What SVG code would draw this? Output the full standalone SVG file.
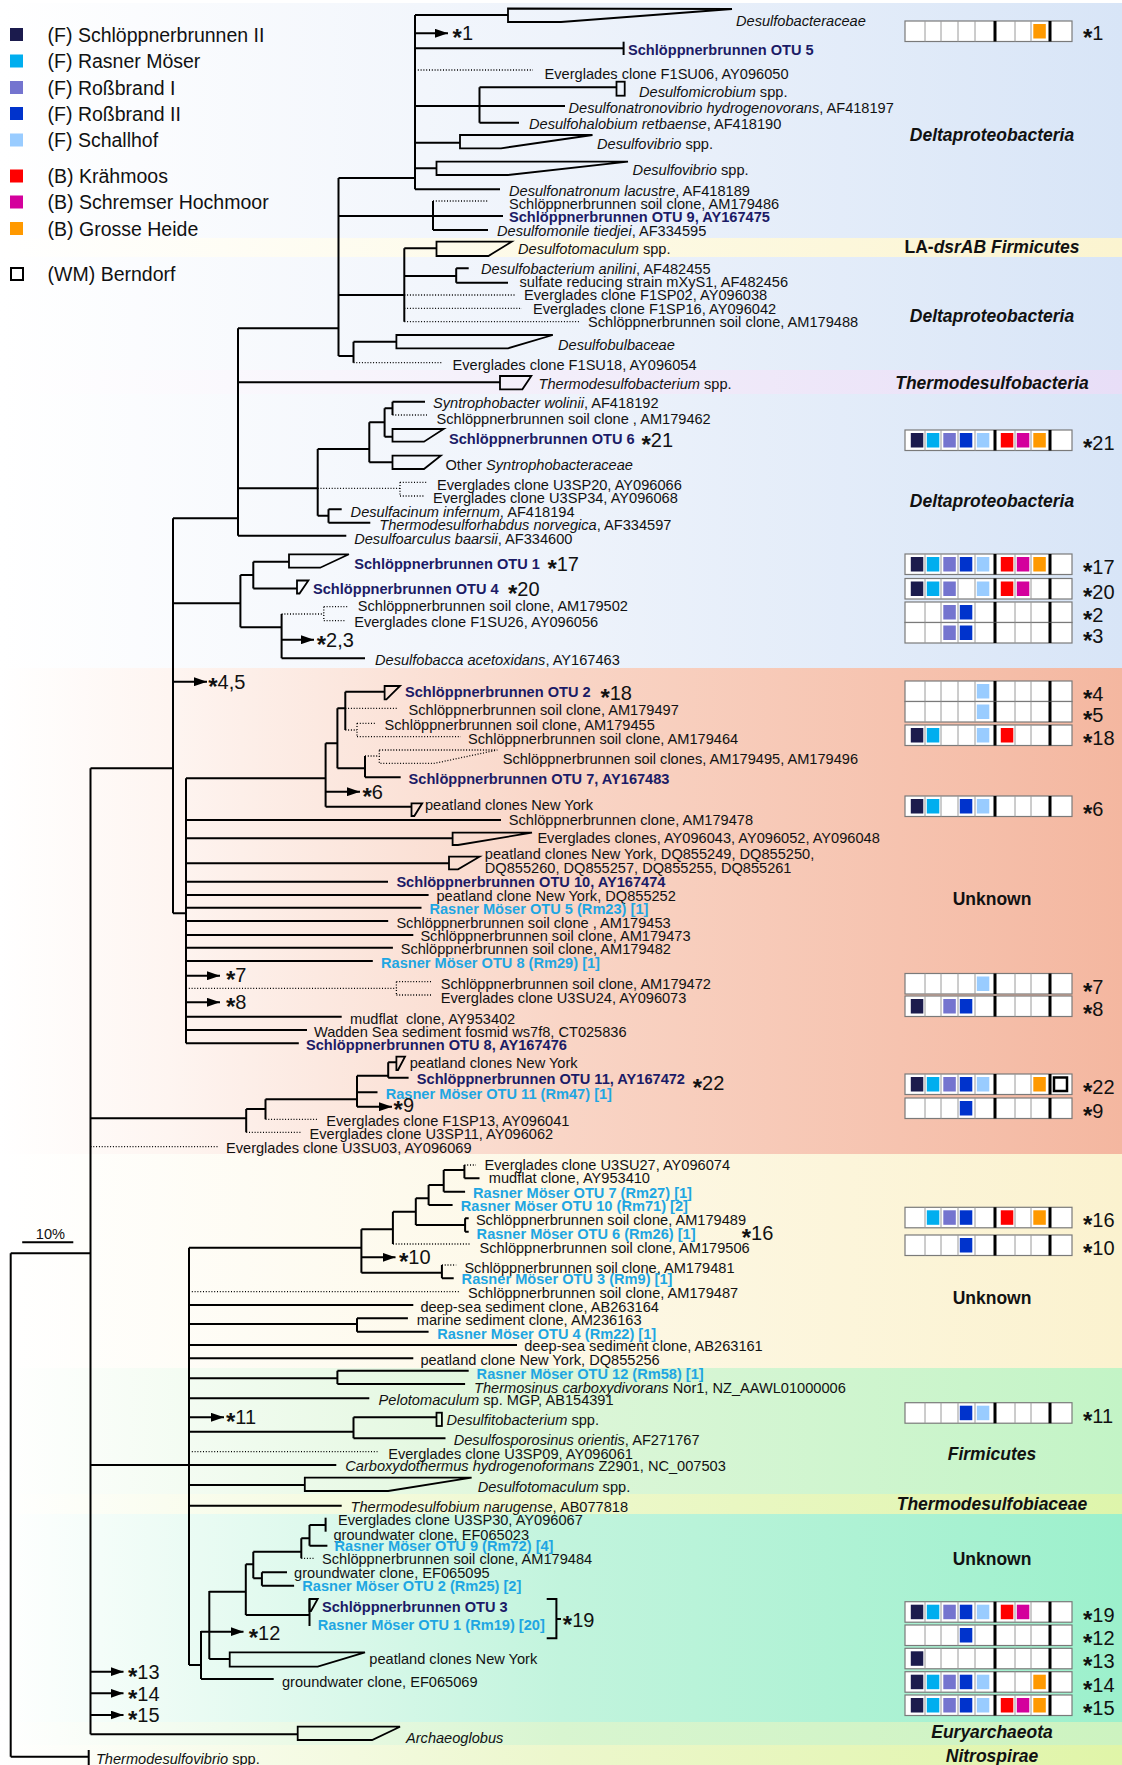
<svg xmlns="http://www.w3.org/2000/svg" width="1122" height="1765" viewBox="0 0 1122 1765">
<style>
.t{font-family:"Liberation Sans",Arial,sans-serif;font-size:14.6px;fill:#111}
.i{font-style:italic}
.nv{fill:#1b1b66;font-weight:bold}
.cy{fill:#1ea6e2;font-weight:bold}
.st{font-family:"Liberation Sans",Arial,sans-serif;font-size:20px;fill:#111}
.as{font-size:24px;font-weight:bold}
.lg{font-family:"Liberation Sans",Arial,sans-serif;font-size:19.5px;fill:#111}
.cl{font-family:"Liberation Sans",Arial,sans-serif;font-size:17.5px;font-weight:bold;font-style:italic;text-anchor:middle;fill:#111}
.up{font-style:normal}
.br{fill:none;stroke:#000;stroke-width:2}
.dt{fill:none;stroke:#000;stroke-width:1.3;stroke-dasharray:1 1.8}
.ar{fill:none;stroke:#000;stroke-width:2;marker-end:url(#ah)}
.cs{fill:none;stroke:#000;stroke-width:1.8}
.csd{fill:none;stroke:#000;stroke-width:1.3;stroke-dasharray:1 1.8}
.fr{fill:#fff;stroke:#7a7a7a;stroke-width:1.2}
.dv{stroke:#9a9a9a;stroke-width:1}
.tk{stroke:#000;stroke-width:3}
.c1{fill:#1b1b4d}.c2{fill:#00aeef}.c3{fill:#7474cf}.c4{fill:#0033cc}.c5{fill:#99ccff}.c6{fill:#ff0000}.c7{fill:#d4009c}.c8{fill:#ff9900}
</style>
<defs>
<marker id="ah" markerUnits="userSpaceOnUse" markerWidth="13" markerHeight="9" refX="13" refY="4.5" orient="auto"><path d="M0,0 L13,4.5 L0,9 z" fill="#000"/></marker>
<linearGradient id="gBlue" x1="0" y1="0" x2="1" y2="0"><stop offset="0" stop-color="#fff"/><stop offset="0.5" stop-color="#eef3fb"/><stop offset="1" stop-color="#d8e5f7"/></linearGradient>
<linearGradient id="gLA" x1="0" y1="0" x2="1" y2="0"><stop offset="0" stop-color="#fff"/><stop offset="0.5" stop-color="#fdfae6"/><stop offset="1" stop-color="#fbf4d0"/></linearGradient>
<linearGradient id="gLav" x1="0" y1="0" x2="1" y2="0"><stop offset="0" stop-color="#fff"/><stop offset="0.5" stop-color="#f3eefa"/><stop offset="1" stop-color="#e8def7"/></linearGradient>
<linearGradient id="gPink" x1="0" y1="0" x2="1" y2="0"><stop offset="0" stop-color="#fff"/><stop offset="0.15" stop-color="#fef5f1"/><stop offset="0.5" stop-color="#f9d5c6"/><stop offset="1" stop-color="#f4b7a0"/></linearGradient>
<linearGradient id="gCream" x1="0" y1="0" x2="1" y2="0"><stop offset="0" stop-color="#fff"/><stop offset="0.5" stop-color="#fdf8e6"/><stop offset="1" stop-color="#fbf2cf"/></linearGradient>
<linearGradient id="gGreen" x1="0" y1="0" x2="1" y2="0"><stop offset="0" stop-color="#fff"/><stop offset="0.5" stop-color="#dcf6d8"/><stop offset="1" stop-color="#c3f4c6"/></linearGradient>
<linearGradient id="gYG" x1="0" y1="0" x2="1" y2="0"><stop offset="0" stop-color="#fff"/><stop offset="0.5" stop-color="#eef8cc"/><stop offset="1" stop-color="#def5ab"/></linearGradient>
<linearGradient id="gTeal" x1="0" y1="0" x2="1" y2="0"><stop offset="0" stop-color="#fff"/><stop offset="0.5" stop-color="#c2f4dd"/><stop offset="1" stop-color="#9cf0cc"/></linearGradient>
<linearGradient id="gEury" x1="0" y1="0" x2="1" y2="0"><stop offset="0" stop-color="#fff"/><stop offset="0.5" stop-color="#d8f5d0"/><stop offset="1" stop-color="#cdf3c0"/></linearGradient>
<linearGradient id="gNitro" x1="0" y1="0" x2="1" y2="0"><stop offset="0" stop-color="#fff"/><stop offset="0.5" stop-color="#ecf7cc"/><stop offset="1" stop-color="#e0f5a8"/></linearGradient>
<symbol id="grid" overflow="visible">
<rect class="fr" x="905" y="0" width="167" height="20.5"/>
<path class="dv" d="M925 0V20.5M941 0V20.5M958 0V20.5M975 0V20.5M1015 0V20.5M1031 0V20.5"/>
<path class="tk" d="M995 0V20.5M1050 0V20.5"/>
</symbol>
</defs>
<rect width="1122" height="1765" fill="#fff"/>
<g id="bands">
<rect x="0" y="3" width="1122" height="235" fill="url(#gBlue)"/>
<rect x="0" y="238" width="1122" height="19" fill="url(#gLA)"/>
<rect x="0" y="257" width="1122" height="113" fill="url(#gBlue)"/>
<rect x="0" y="370" width="1122" height="24" fill="url(#gLav)"/>
<rect x="0" y="394" width="1122" height="274" fill="url(#gBlue)"/>
<rect x="0" y="668" width="1122" height="486" fill="url(#gPink)"/>
<rect x="0" y="1154" width="1122" height="214" fill="url(#gCream)"/>
<rect x="0" y="1368" width="1122" height="126" fill="url(#gGreen)"/>
<rect x="0" y="1494" width="1122" height="20" fill="url(#gYG)"/>
<rect x="0" y="1514" width="1122" height="208" fill="url(#gTeal)"/>
<rect x="0" y="1722" width="1122" height="23" fill="url(#gEury)"/>
<rect x="0" y="1745" width="1122" height="20" fill="url(#gNitro)"/>
</g>
<g id="legend">
<rect class="c1" x="10" y="28" width="13" height="13"/><text class="lg" x="47.6" y="42">(F) Schlöppnerbrunnen II</text>
<rect class="c2" x="10" y="54.5" width="13" height="13"/><text class="lg" x="47.6" y="68">(F) Rasner Möser</text>
<rect class="c3" x="10" y="81" width="13" height="13"/><text class="lg" x="47.6" y="94.5">(F) Roßbrand I</text>
<rect class="c4" x="10" y="107" width="13" height="13"/><text class="lg" x="47.6" y="120.5">(F) Roßbrand II</text>
<rect class="c5" x="10" y="133.5" width="13" height="13"/><text class="lg" x="47.6" y="147">(F) Schallhof</text>
<rect class="c6" x="10" y="169.5" width="13" height="13"/><text class="lg" x="47.6" y="183">(B) Krähmoos</text>
<rect class="c7" x="10" y="195.5" width="13" height="13"/><text class="lg" x="47.6" y="209">(B) Schremser Hochmoor</text>
<rect class="c8" x="10" y="222" width="13" height="13"/><text class="lg" x="47.6" y="235.5">(B) Grosse Heide</text>
<rect x="11" y="268" width="12" height="12" fill="#fff" stroke="#000" stroke-width="2"/><text class="lg" x="47.6" y="281">(WM) Berndorf</text>
</g>
<g id="clades">
<text class="cl" x="992" y="141">Deltaproteobacteria</text>
<text class="cl" x="992" y="253"><tspan class="up">LA-</tspan>dsrAB Firmicutes</text>
<text class="cl" x="992" y="321.5">Deltaproteobacteria</text>
<text class="cl" x="992" y="389">Thermodesulfobacteria</text>
<text class="cl" x="992" y="506.5">Deltaproteobacteria</text>
<text class="cl up" x="992" y="905">Unknown</text>
<text class="cl up" x="992" y="1304">Unknown</text>
<text class="cl" x="992" y="1460">Firmicutes</text>
<text class="cl" x="992" y="1510">Thermodesulfobiaceae</text>
<text class="cl up" x="992" y="1565">Unknown</text>
<text class="cl" x="992" y="1738">Euryarchaeota</text>
<text class="cl" x="992" y="1762">Nitrospirae</text>
</g>
<g id="connectors">
<path class="br" d="M415 15V189.3M415 15H508M415 48.3H623.6M415 106H565M415 142.7H460M415 168.3H436.5M415 189.3H500M479.5 87.3V122.7M479.5 87.3H617M479.5 122.7H519"/>
<path class="dt" d="M415 70H533"/>
<path class="br" d="M338.5 178V356M338.5 178H415M338.5 216H433M338.5 295H404.3M338.5 356H353.5M433 201V230M433 216H503M433 230H488"/>
<path class="dt" d="M433 201H488.4"/>
<path class="br" d="M404.3 248.3V321.7M404.3 248.3H436.5M404.3 276H456.2M456.2 268.3V282.7M456.2 268.3H468.7M456.2 282.7H508"/>
<path class="dt" d="M404.3 295H515M404.3 308.3H522M404.3 321.7H579"/>
<path class="br" d="M353.5 341.7V362.7M353.5 341.7H396.4"/>
<path class="dt" d="M353.5 362.7H442.6"/>
<path class="br" d="M238 328.3V535.7M238 328.3H338.5M238 382.3H500M238 488.3H317.7M238 535.7H346.3"/>
<path class="br" d="M317.7 449V515.7M317.7 449H369.3M317.7 515.7H328.5M369.3 422.3V462.3M369.3 422.3H384.6M369.3 462.3H392.5M384.6 408.3V436.7M384.6 408.3H392.5M384.6 436.7H392.5M392.5 401.7V415M392.5 401.7H425"/>
<path class="dt" d="M317.7 488.3H400M392.5 415H427M400 482.3V496M400 482.3H427.6M400 496H424"/>
<path class="br" d="M328.5 509.3V522.7M328.5 509.3H341.7M328.5 522.7H370.3"/>
<path class="br" d="M173 518.3V913.3M173 518.3H238M173 603.3H240.4M173 913.3H186M240.4 575V627.3M240.4 575H253.3M240.4 627.3H281.6M253.3 561.7V588.6M253.3 561.7H289M253.3 588.6H297M281.6 614V658.3M281.6 658.3H365"/>
<path class="dt" d="M281.6 614H323.8M323.8 606.7V620.7M323.8 606.7H348.9M323.8 620.7H345.3"/>
<path class="br" d="M90.5 768.3V1734.3M90.5 768.3H173M90.5 1118.3H246.2M90.5 1465H336.3M90.5 1734.3H297.7"/>
<path class="dt" d="M90.5 1146.7H217.5"/>
<path class="br" d="M10.7 1253.3V1756.7M10.7 1253.3H90.5M10.7 1756.7H88.7"/>
<path class="br" d="M186 778.3V1043.3M186 778.3H325.6M186 820H501M186 838.3H452.6M186 863.3H449M186 881.7H388M186 895H428.6M186 907.7H421.5M186 921H388.2M186 935H413.3M186 947.7H392.9M186 961H372.8M186 1016.7H341.7M186 1030H307M186 1043.3H298.8"/>
<path class="dt" d="M186 988.3H396.4M396.4 981.7V995M396.4 981.7H431M396.4 995H431"/>
<path class="br" d="M325.6 743.3V806.7M325.6 743.3H337.4M325.6 806.7H411.5M337.4 708.3V768.3M337.4 708.3H345.3M337.4 768.3H365M345.3 691.7V730M345.3 691.7H384.6M365 756V777.3M365 777.3H400.7"/>
<path class="dt" d="M345.3 708.3H397M345.3 730H357M357 723.3V736.7M357 723.3H376.4M357 736.7H460.8M365 756H379.3"/>
<path class="br" d="M246.2 1109V1132.3M246.2 1109H265.5M265.5 1099.3V1119.3M265.5 1099.3H357M357 1075.7V1106.7M357 1075.7H388.2M357 1092.3H377.5M388.2 1062.3V1077.7M388.2 1062.3H396.4M388.2 1077.7H408.6"/>
<path class="dt" d="M246.2 1132.3H301.3M265.5 1119.3H317.7"/>
<path class="br" d="M189 1247.7V1665M189 1247.7H361.4M189 1305H413.3M189 1324H357M189 1345H517M189 1358.3H413.3M189 1378.3H337.4M189 1398.3H369.3M189 1431.7H353.5M189 1485H304.8M189 1505.7H341.7M189 1665H201"/>
<path class="dt" d="M189 1291.7H459.8M189 1451.7H377.5"/>
<path class="br" d="M361.4 1229.3V1272.7M361.4 1229.3H392.9M361.4 1272.7H441.9M392.9 1211.7V1244M392.9 1211.7H415.8M415.8 1198.3V1225M415.8 1198.3H428.6M415.8 1225H465.1M428.6 1185V1205M428.6 1185H443.7M428.6 1205H452.6M443.7 1170V1191.7M443.7 1170H464.4M443.7 1191.7H465.1M464.4 1165V1178.3M464.4 1178.3H479.5M465.1 1218.3V1231.7M465.1 1218.3H468.7M465.1 1231.7H468.7M441.9 1265V1278.3M441.9 1278.3H453.7"/>
<path class="dt" d="M392.9 1244H470.5M464.4 1165H476M441.9 1265H456.2"/>
<path class="br" d="M357 1318.3V1331.7M357 1318.3H407.9M357 1331.7H428.6M337.4 1370.7V1384M337.4 1370.7H468.7M337.4 1384H465.1M353.5 1417.3V1438.3M353.5 1417.3H436.5M353.5 1438.3H445.5"/>
<path class="br" d="M201 1631V1679M201 1679H273.7M209.3 1591V1659M209.3 1591.7H245.8M209.3 1659H229.7M245.8 1564.3V1615M245.8 1564.3H253.3M245.8 1615H309.5M253.3 1551.7V1578.3M253.3 1551.7H301.3M253.3 1578.3H261.9M301.3 1538.3V1558.3M301.3 1538.3H309.5M309.5 1525V1545.7M309.5 1525H325.6M309.5 1545.7H327.4M261.9 1572.3V1585.7M261.9 1572.3H287M261.9 1585.7H294.1M309.5 1599V1626"/>
<path class="dt" d="M301.3 1558.3H314.1"/>
<path class="ar" d="M415 33.3H448"/>
<path class="ar" d="M281.6 639.7H314"/>
<path class="ar" d="M173 681.7H207"/>
<path class="ar" d="M325.6 791.7H360"/>
<path class="ar" d="M186 975.7H220"/>
<path class="ar" d="M186 1002.3H220"/>
<path class="ar" d="M357 1106.7H392"/>
<path class="ar" d="M361.4 1257.3H395.5"/>
<path class="ar" d="M189 1417.3H224"/>
<path class="ar" d="M201 1631.7H243.5"/>
<path class="ar" d="M90.5 1671.7H123.5"/>
<path class="ar" d="M90.5 1693.3H123.5"/>
<path class="ar" d="M90.5 1715H123.5"/>
<path class="br" d="M546.7 1599H556.4V1638.3H546.7M556.4 1619H561"/>
</g>
<g id="scale"><path class="br" d="M22.2 1242.3H73.3"/><text class="t" x="35.8" y="1239">10%</text></g>
<g id="nodes">
<g id="n01"><polygon class="cs" points="508,8.5 732,9 561,22 508,22"/><text class="t i" x="736" y="25.5">Desulfobacteraceae</text></g>
<g id="n02"><text class="st" x="452.6" y="40"><tspan class="as" dy="6">*</tspan><tspan dy="-6">1</tspan></text></g>
<g id="n03"><path class="br" d="M623.6 41.7V55"/><text class="t nv" x="628" y="55">Schlöppnerbrunnen OTU 5</text></g>
<g id="n04"><text class="t" x="544.6" y="78.5">Everglades clone F1SU06, AY096050</text></g>
<g id="n05"><rect class="cs" x="616.5" y="81.7" width="8.2" height="14"/><text class="t" x="639" y="97"><tspan class="i">Desulfomicrobium</tspan> spp.</text></g>
<g id="n06"><text class="t" x="568.5" y="112.5"><tspan class="i">Desulfonatronovibrio hydrogenovorans</tspan>, AF418197</text></g>
<g id="n07"><text class="t" x="529" y="128.5"><tspan class="i">Desulfohalobium retbaense</tspan>, AF418190</text></g>
<g id="n08"><polygon class="cs" points="460,135 592.5,135 501,148.3 460,148.3"/><text class="t" x="597" y="148.5"><tspan class="i">Desulfovibrio</tspan> spp.</text></g>
<g id="n09"><polygon class="cs" points="436.5,161.7 628,161.7 508,175 436.5,175"/><text class="t" x="632.6" y="174.5"><tspan class="i">Desulfovibrio</tspan> spp.</text></g>
<g id="n10"><text class="t" x="509" y="195.5"><tspan class="i">Desulfonatronum lacustre</tspan>, AF418189</text></g>
<g id="n11"><text class="t" x="509" y="208.5">Schlöppnerbrunnen soil clone, AM179486</text></g>
<g id="n12"><text class="t nv" x="509" y="222">Schlöppnerbrunnen OTU 9, AY167475</text></g>
<g id="n13"><text class="t" x="497" y="236"><tspan class="i">Desulfomonile tiedjei</tspan>, AF334595</text></g>
<g id="n14"><polygon class="cs" points="436.5,241.7 511.7,241.7 488.4,256 436.5,256"/><text class="t" x="518" y="253.5"><tspan class="i">Desulfotomaculum</tspan> spp.</text></g>
<g id="n15"><text class="t" x="481" y="273.5"><tspan class="i">Desulfobacterium anilini</tspan>, AF482455</text></g>
<g id="n16"><text class="t" x="519.5" y="287">sulfate reducing strain mXyS1, AF482456</text></g>
<g id="n17"><text class="t" x="524" y="300">Everglades clone F1SP02, AY096038</text></g>
<g id="n18"><text class="t" x="533" y="313.5">Everglades clone F1SP16, AY096042</text></g>
<g id="n19"><text class="t" x="588" y="327">Schlöppnerbrunnen soil clone, AM179488</text></g>
<g id="n20"><polygon class="cs" points="396.4,335 552.8,335 508,348.3 396.4,348.3"/><text class="t i" x="558" y="349.5">Desulfobulbaceae</text></g>
<g id="n21"><text class="t" x="452.6" y="369.5">Everglades clone F1SU18, AY096054</text></g>
<g id="n22"><polygon class="cs" points="500,376 531.3,376 522.4,389.3 500,389.3"/><text class="t" x="538.5" y="388.5"><tspan class="i">Thermodesulfobacterium</tspan> spp.</text></g>
<g id="n23"><text class="t" x="433" y="407.5"><tspan class="i">Syntrophobacter wolinii</tspan>, AF418192</text></g>
<g id="n24"><text class="t" x="436.5" y="423.5">Schlöppnerbrunnen soil clone , AM179462</text></g>
<g id="n25"><polygon class="cs" points="392.5,429 443.7,429 424,441.7 392.5,441.7"/><text class="t nv" x="449" y="443.5">Schlöppnerbrunnen OTU 6</text><text class="st" x="641.5" y="447"><tspan class="as" dy="6">*</tspan><tspan dy="-6">21</tspan></text></g>
<g id="n26"><polygon class="cs" points="392.5,455.7 440.8,455.7 424,469 392.5,469"/><text class="t" x="445.5" y="470">Other <tspan class="i">Syntrophobacteraceae</tspan></text></g>
<g id="n27"><text class="t" x="437" y="489.5">Everglades clone U3SP20, AY096066</text></g>
<g id="n28"><text class="t" x="433" y="503">Everglades clone U3SP34, AY096068</text></g>
<g id="n29"><text class="t" x="350.6" y="517"><tspan class="i">Desulfacinum infernum</tspan>, AF418194</text></g>
<g id="n30"><text class="t" x="379.3" y="529.5"><tspan class="i">Thermodesulforhabdus norvegica</tspan>, AF334597</text></g>
<g id="n31"><text class="t" x="354.2" y="543.5"><tspan class="i">Desulfoarculus baarsii</tspan>, AF334600</text></g>
<g id="n32"><polygon class="cs" points="289,554.3 348.9,554.3 320.2,567.7 289,567.7"/><text class="t nv" x="354.2" y="568.5">Schlöppnerbrunnen OTU 1</text><text class="st" x="547.4" y="571"><tspan class="as" dy="6">*</tspan><tspan dy="-6">17</tspan></text></g>
<g id="n33"><polygon class="cs" points="297,580.5 308.4,580.5 299.5,593.5 297,593.5"/><text class="t nv" x="313" y="594">Schlöppnerbrunnen OTU 4</text><text class="st" x="508" y="596"><tspan class="as" dy="6">*</tspan><tspan dy="-6">20</tspan></text></g>
<g id="n34"><text class="t" x="357.8" y="611">Schlöppnerbrunnen soil clone, AM179502</text></g>
<g id="n35"><text class="t" x="354.2" y="627">Everglades clone F1SU26, AY096056</text></g>
<g id="n36"><text class="st" x="316.7" y="647"><tspan class="as" dy="6">*</tspan><tspan dy="-6">2,3</tspan></text></g>
<g id="n37"><text class="t" x="375" y="665"><tspan class="i">Desulfobacca acetoxidans</tspan>, AY167463</text></g>
<g id="n38"><text class="st" x="208.2" y="689"><tspan class="as" dy="6">*</tspan><tspan dy="-6">4,5</tspan></text></g>
<g id="n39"><polygon class="cs" points="384.6,686 400,686 386.4,699.3 384.6,699.3"/><text class="t nv" x="405" y="697">Schlöppnerbrunnen OTU 2</text><text class="st" x="600.4" y="700"><tspan class="as" dy="6">*</tspan><tspan dy="-6">18</tspan></text></g>
<g id="n40"><text class="t" x="408.6" y="714.5">Schlöppnerbrunnen soil clone, AM179497</text></g>
<g id="n41"><text class="t" x="384.6" y="730">Schlöppnerbrunnen soil clone, AM179455</text></g>
<g id="n42"><text class="t" x="468" y="743.5">Schlöppnerbrunnen soil clone, AM179464</text></g>
<g id="n43"><polygon class="csd" points="379.3,750 497.3,750 434.7,763.3 379.3,763.3"/><text class="t" x="502.7" y="763.5">Schlöppnerbrunnen soil clones, AM179495, AM179496</text></g>
<g id="n44"><text class="t nv" x="408.6" y="783.5">Schlöppnerbrunnen OTU 7, AY167483</text></g>
<g id="n45"><text class="st" x="362.5" y="798.5"><tspan class="as" dy="6">*</tspan><tspan dy="-6">6</tspan></text></g>
<g id="n46"><polygon class="cs" points="411.5,803.3 422.2,803.3 414.3,816 411.5,816"/><text class="t" x="425" y="810">peatland clones New York</text></g>
<g id="n47"><text class="t" x="508.8" y="825">Schlöppnerbrunnen clone, AM179478</text></g>
<g id="n48"><polygon class="cs" points="452.6,832.7 532,832.7 458,845 452.6,845"/><text class="t" x="537.4" y="842.5">Everglades clones, AY096043, AY096052, AY096048</text></g>
<g id="n49"><polygon class="cs" points="449,856.7 479.5,856.7 458,869.3 449,869.3"/><text class="t" x="484.8" y="858.5">peatland clones New York, DQ855249, DQ855250,</text><text class="t" x="484.8" y="873">DQ855260, DQ855257, DQ855255, DQ855261</text></g>
<g id="n50"><text class="t nv" x="396.4" y="887">Schlöppnerbrunnen OTU 10, AY167474</text></g>
<g id="n51"><text class="t" x="436.5" y="901">peatland clone New York, DQ855252</text></g>
<g id="n52"><text class="t cy" x="429.4" y="914">Rasner Möser OTU 5 (Rm23) [1]</text></g>
<g id="n53"><text class="t" x="396.4" y="927.5">Schlöppnerbrunnen soil clone , AM179453</text></g>
<g id="n54"><text class="t" x="420.4" y="941">Schlöppnerbrunnen soil clone, AM179473</text></g>
<g id="n55"><text class="t" x="400.7" y="954">Schlöppnerbrunnen soil clone, AM179482</text></g>
<g id="n56"><text class="t cy" x="381" y="968">Rasner Möser OTU 8 (Rm29) [1]</text></g>
<g id="n57"><text class="st" x="226" y="982"><tspan class="as" dy="6">*</tspan><tspan dy="-6">7</tspan></text></g>
<g id="n58"><text class="t" x="440.8" y="989">Schlöppnerbrunnen soil clone, AM179472</text></g>
<g id="n59"><text class="t" x="440.8" y="1003">Everglades clone U3SU24, AY096073</text></g>
<g id="n60"><text class="st" x="226" y="1009"><tspan class="as" dy="6">*</tspan><tspan dy="-6">8</tspan></text></g>
<g id="n61"><text class="t" x="350" y="1023.5" xml:space="preserve">mudflat  clone, AY953402</text></g>
<g id="n62"><text class="t" x="314" y="1037">Wadden Sea sediment fosmid ws7f8, CT025836</text></g>
<g id="n63"><text class="t nv" x="306" y="1050">Schlöppnerbrunnen OTU 8, AY167476</text></g>
<g id="n64"><polygon class="cs" points="396.4,1056.7 405,1056.7 398,1070 396.4,1070"/><text class="t" x="409.7" y="1067.5">peatland clones New York</text></g>
<g id="n65"><text class="t nv" x="416.8" y="1084">Schlöppnerbrunnen OTU 11, AY167472</text><text class="st" x="692.7" y="1090"><tspan class="as" dy="6">*</tspan><tspan dy="-6">22</tspan></text></g>
<g id="n66"><text class="t cy" x="385.7" y="1098.5">Rasner Möser OTU 11 (Rm47) [1]</text></g>
<g id="n67"><text class="st" x="393.6" y="1112"><tspan class="as" dy="6">*</tspan><tspan dy="-6">9</tspan></text></g>
<g id="n68"><text class="t" x="326.3" y="1126">Everglades clone F1SP13, AY096041</text></g>
<g id="n69"><text class="t" x="309.5" y="1139">Everglades clone U3SP11, AY096062</text></g>
<g id="n70"><text class="t" x="226" y="1153">Everglades clone U3SU03, AY096069</text></g>
<g id="n71"><text class="t" x="484.5" y="1170">Everglades clone U3SU27, AY096074</text></g>
<g id="n72"><text class="t" x="488.8" y="1183">mudflat clone, AY953410</text></g>
<g id="n73"><text class="t cy" x="473" y="1198">Rasner Möser OTU 7 (Rm27) [1]</text></g>
<g id="n74"><text class="t cy" x="460.8" y="1211">Rasner Möser OTU 10 (Rm71) [2]</text></g>
<g id="n75"><text class="t" x="475.9" y="1224.5">Schlöppnerbrunnen soil clone, AM179489</text></g>
<g id="n76"><text class="t cy" x="476.6" y="1239">Rasner Möser OTU 6 (Rm26) [1]</text><text class="st" x="741.7" y="1240"><tspan class="as" dy="6">*</tspan><tspan dy="-6">16</tspan></text></g>
<g id="n77"><text class="t" x="479.5" y="1253">Schlöppnerbrunnen soil clone, AM179506</text></g>
<g id="n78"><text class="st" x="399" y="1264"><tspan class="as" dy="6">*</tspan><tspan dy="-6">10</tspan></text></g>
<g id="n79"><text class="t" x="464.4" y="1272.5">Schlöppnerbrunnen soil clone, AM179481</text></g>
<g id="n80"><text class="t cy" x="461.6" y="1284">Rasner Möser OTU 3 (Rm9) [1]</text></g>
<g id="n81"><text class="t" x="468" y="1298">Schlöppnerbrunnen soil clone, AM179487</text></g>
<g id="n82"><text class="t" x="420.4" y="1312">deep-sea sediment clone, AB263164</text></g>
<g id="n83"><text class="t" x="416.8" y="1325">marine sediment clone, AM236163</text></g>
<g id="n84"><text class="t cy" x="437.2" y="1339">Rasner Möser OTU 4 (Rm22) [1]</text></g>
<g id="n85"><text class="t" x="524.2" y="1351">deep-sea sediment clone, AB263161</text></g>
<g id="n86"><text class="t" x="420.4" y="1365">peatland clone New York, DQ855256</text></g>
<g id="n87"><text class="t cy" x="476.6" y="1378.5">Rasner Möser OTU 12 (Rm58) [1]</text></g>
<g id="n88"><text class="t" x="474" y="1392.5"><tspan class="i">Thermosinus carboxydivorans</tspan> Nor1, NZ_AAWL01000006</text></g>
<g id="n89"><text class="t" x="378.6" y="1405"><tspan class="i">Pelotomaculum</tspan> sp. MGP, AB154391</text></g>
<g id="n90"><text class="st" x="226" y="1424"><tspan class="as" dy="6">*</tspan><tspan dy="-6">11</tspan></text></g>
<g id="n91"><rect class="cs" x="436.5" y="1412.7" width="5.4" height="13.3"/><text class="t" x="446.5" y="1425"><tspan class="i">Desulfitobacterium</tspan> spp.</text></g>
<g id="n92"><text class="t" x="453.7" y="1444.5"><tspan class="i">Desulfosporosinus orientis</tspan>, AF271767</text></g>
<g id="n93"><text class="t" x="388.2" y="1458.5">Everglades clone U3SP09, AY096061</text></g>
<g id="n94"><text class="t" x="345.3" y="1471"><tspan class="i">Carboxydothermus hydrogenoformans</tspan> Z2901, NC_007503</text></g>
<g id="n95"><polygon class="cs" points="304.8,1477.7 471.6,1477.7 388.2,1491 304.8,1491"/><text class="t" x="477.7" y="1492"><tspan class="i">Desulfotomaculum</tspan> spp.</text></g>
<g id="n96"><text class="t" x="350.6" y="1512"><tspan class="i">Thermodesulfobium narugense</tspan>, AB077818</text></g>
<g id="n97"><path class="br" d="M325.6 1517.7V1531.7"/><text class="t" x="338" y="1525">Everglades clone U3SP30, AY096067</text></g>
<g id="n98"><text class="t" x="333.5" y="1539.5">groundwater clone, EF065023</text></g>
<g id="n99"><text class="t cy" x="334.5" y="1551">Rasner Möser OTU 9 (Rm72) [4]</text></g>
<g id="n100"><text class="t" x="322" y="1564">Schlöppnerbrunnen soil clone, AM179484</text></g>
<g id="n101"><text class="t" x="294.1" y="1577.5">groundwater clone, EF065095</text></g>
<g id="n102"><text class="t cy" x="302.3" y="1591">Rasner Möser OTU 2 (Rm25) [2]</text></g>
<g id="n103"><polygon class="cs" points="309.5,1599 317.7,1599 311,1611 309.5,1611"/><text class="t nv" x="322" y="1612">Schlöppnerbrunnen OTU 3</text></g>
<g id="n104"><text class="t cy" x="317.7" y="1630">Rasner Möser OTU 1 (Rm19) [20]</text><text class="st" x="562.8" y="1627"><tspan class="as" dy="6">*</tspan><tspan dy="-6">19</tspan></text></g>
<g id="n105"><text class="st" x="248.7" y="1640"><tspan class="as" dy="6">*</tspan><tspan dy="-6">12</tspan></text></g>
<g id="n106"><polygon class="cs" points="229.7,1652.3 365,1652.3 317.7,1666.7 229.7,1666.7"/><text class="t" x="369.3" y="1663.5">peatland clones New York</text></g>
<g id="n107"><text class="t" x="282" y="1687">groundwater clone, EF065069</text></g>
<g id="n108"><text class="st" x="128" y="1679"><tspan class="as" dy="6">*</tspan><tspan dy="-6">13</tspan></text></g>
<g id="n109"><text class="st" x="128" y="1700.5"><tspan class="as" dy="6">*</tspan><tspan dy="-6">14</tspan></text></g>
<g id="n110"><text class="st" x="128" y="1722"><tspan class="as" dy="6">*</tspan><tspan dy="-6">15</tspan></text></g>
<g id="n111"><polygon class="cs" points="297.7,1726.7 400,1726.7 372.1,1740 297.7,1740"/><text class="t i" x="406" y="1743">Archaeoglobus</text></g>
<g id="n112"><path class="br" d="M88.7 1750V1765"/><text class="t" x="95.9" y="1763.5"><tspan class="i">Thermodesulfovibrio</tspan> spp.</text></g>
</g>
<g id="boxes">
<g id="b1"><use href="#grid" y="21"/><rect class="c8" x="1033.3" y="24" width="12.5" height="14.5"/><text class="st" x="1083" y="40"><tspan class="as" dy="6">*</tspan><tspan dy="-6">1</tspan></text></g>
<g id="b21"><use href="#grid" y="430"/><rect class="c1" x="910.8" y="433" width="12.5" height="14.5"/><rect class="c2" x="926.8" y="433" width="12.5" height="14.5"/><rect class="c3" x="943.3" y="433" width="12.5" height="14.5"/><rect class="c4" x="959.8" y="433" width="12.5" height="14.5"/><rect class="c5" x="976.8" y="433" width="12.5" height="14.5"/><rect class="c6" x="1000.8" y="433" width="12.5" height="14.5"/><rect class="c7" x="1016.8" y="433" width="12.5" height="14.5"/><rect class="c8" x="1033.3" y="433" width="12.5" height="14.5"/><text class="st" x="1083" y="450"><tspan class="as" dy="6">*</tspan><tspan dy="-6">21</tspan></text></g>
<g id="b17"><use href="#grid" y="554"/><rect class="c1" x="910.8" y="557" width="12.5" height="14.5"/><rect class="c2" x="926.8" y="557" width="12.5" height="14.5"/><rect class="c3" x="943.3" y="557" width="12.5" height="14.5"/><rect class="c4" x="959.8" y="557" width="12.5" height="14.5"/><rect class="c5" x="976.8" y="557" width="12.5" height="14.5"/><rect class="c6" x="1000.8" y="557" width="12.5" height="14.5"/><rect class="c7" x="1016.8" y="557" width="12.5" height="14.5"/><rect class="c8" x="1033.3" y="557" width="12.5" height="14.5"/><text class="st" x="1083" y="574"><tspan class="as" dy="6">*</tspan><tspan dy="-6">17</tspan></text></g>
<g id="b20"><use href="#grid" y="578.5"/><rect class="c1" x="910.8" y="581.5" width="12.5" height="14.5"/><rect class="c2" x="926.8" y="581.5" width="12.5" height="14.5"/><rect class="c3" x="943.3" y="581.5" width="12.5" height="14.5"/><rect class="c5" x="976.8" y="581.5" width="12.5" height="14.5"/><rect class="c6" x="1000.8" y="581.5" width="12.5" height="14.5"/><rect class="c7" x="1016.8" y="581.5" width="12.5" height="14.5"/><text class="st" x="1083" y="598.5"><tspan class="as" dy="6">*</tspan><tspan dy="-6">20</tspan></text></g>
<g id="b2"><use href="#grid" y="602"/><rect class="c3" x="943.3" y="605" width="12.5" height="14.5"/><rect class="c4" x="959.8" y="605" width="12.5" height="14.5"/><text class="st" x="1083" y="622"><tspan class="as" dy="6">*</tspan><tspan dy="-6">2</tspan></text></g>
<g id="b3"><use href="#grid" y="622.5"/><rect class="c3" x="943.3" y="625.5" width="12.5" height="14.5"/><rect class="c4" x="959.8" y="625.5" width="12.5" height="14.5"/><text class="st" x="1083" y="642.5"><tspan class="as" dy="6">*</tspan><tspan dy="-6">3</tspan></text></g>
<g id="b4"><use href="#grid" y="681"/><rect class="c5" x="976.8" y="684" width="12.5" height="14.5"/><text class="st" x="1083" y="701"><tspan class="as" dy="6">*</tspan><tspan dy="-6">4</tspan></text></g>
<g id="b5"><use href="#grid" y="701.5"/><rect class="c5" x="976.8" y="704.5" width="12.5" height="14.5"/><text class="st" x="1083" y="721.5"><tspan class="as" dy="6">*</tspan><tspan dy="-6">5</tspan></text></g>
<g id="b18"><use href="#grid" y="725"/><rect class="c1" x="910.8" y="728" width="12.5" height="14.5"/><rect class="c2" x="926.8" y="728" width="12.5" height="14.5"/><rect class="c5" x="976.8" y="728" width="12.5" height="14.5"/><rect class="c6" x="1000.8" y="728" width="12.5" height="14.5"/><text class="st" x="1083" y="745"><tspan class="as" dy="6">*</tspan><tspan dy="-6">18</tspan></text></g>
<g id="b6"><use href="#grid" y="796"/><rect class="c1" x="910.8" y="799" width="12.5" height="14.5"/><rect class="c2" x="926.8" y="799" width="12.5" height="14.5"/><rect class="c4" x="959.8" y="799" width="12.5" height="14.5"/><rect class="c5" x="976.8" y="799" width="12.5" height="14.5"/><text class="st" x="1083" y="816"><tspan class="as" dy="6">*</tspan><tspan dy="-6">6</tspan></text></g>
<g id="b7"><use href="#grid" y="973.5"/><rect class="c5" x="976.8" y="976.5" width="12.5" height="14.5"/><text class="st" x="1083" y="993.5"><tspan class="as" dy="6">*</tspan><tspan dy="-6">7</tspan></text></g>
<g id="b8"><use href="#grid" y="996"/><rect class="c1" x="910.8" y="999" width="12.5" height="14.5"/><rect class="c3" x="943.3" y="999" width="12.5" height="14.5"/><rect class="c4" x="959.8" y="999" width="12.5" height="14.5"/><text class="st" x="1083" y="1016"><tspan class="as" dy="6">*</tspan><tspan dy="-6">8</tspan></text></g>
<g id="b22"><use href="#grid" y="1074"/><rect class="c1" x="910.8" y="1077" width="12.5" height="14.5"/><rect class="c2" x="926.8" y="1077" width="12.5" height="14.5"/><rect class="c3" x="943.3" y="1077" width="12.5" height="14.5"/><rect class="c4" x="959.8" y="1077" width="12.5" height="14.5"/><rect class="c5" x="976.8" y="1077" width="12.5" height="14.5"/><rect class="c8" x="1033.3" y="1077" width="12.5" height="14.5"/><rect x="1054" y="1077.5" width="13" height="13.5" fill="#fff" stroke="#000" stroke-width="2.5"/><text class="st" x="1083" y="1094"><tspan class="as" dy="6">*</tspan><tspan dy="-6">22</tspan></text></g>
<g id="b9"><use href="#grid" y="1098"/><rect class="c4" x="959.8" y="1101" width="12.5" height="14.5"/><text class="st" x="1083" y="1118"><tspan class="as" dy="6">*</tspan><tspan dy="-6">9</tspan></text></g>
<g id="b16"><use href="#grid" y="1207.3"/><rect class="c2" x="926.8" y="1210.3" width="12.5" height="14.5"/><rect class="c3" x="943.3" y="1210.3" width="12.5" height="14.5"/><rect class="c4" x="959.8" y="1210.3" width="12.5" height="14.5"/><rect class="c6" x="1000.8" y="1210.3" width="12.5" height="14.5"/><rect class="c8" x="1033.3" y="1210.3" width="12.5" height="14.5"/><text class="st" x="1083" y="1227.3"><tspan class="as" dy="6">*</tspan><tspan dy="-6">16</tspan></text></g>
<g id="b10"><use href="#grid" y="1235"/><rect class="c4" x="959.8" y="1238" width="12.5" height="14.5"/><text class="st" x="1083" y="1255"><tspan class="as" dy="6">*</tspan><tspan dy="-6">10</tspan></text></g>
<g id="b11"><use href="#grid" y="1402.7"/><rect class="c4" x="959.8" y="1405.7" width="12.5" height="14.5"/><rect class="c5" x="976.8" y="1405.7" width="12.5" height="14.5"/><text class="st" x="1083" y="1422.7"><tspan class="as" dy="6">*</tspan><tspan dy="-6">11</tspan></text></g>
<g id="b19"><use href="#grid" y="1601.7"/><rect class="c1" x="910.8" y="1604.7" width="12.5" height="14.5"/><rect class="c2" x="926.8" y="1604.7" width="12.5" height="14.5"/><rect class="c3" x="943.3" y="1604.7" width="12.5" height="14.5"/><rect class="c4" x="959.8" y="1604.7" width="12.5" height="14.5"/><rect class="c5" x="976.8" y="1604.7" width="12.5" height="14.5"/><rect class="c6" x="1000.8" y="1604.7" width="12.5" height="14.5"/><rect class="c7" x="1016.8" y="1604.7" width="12.5" height="14.5"/><text class="st" x="1083" y="1621.7"><tspan class="as" dy="6">*</tspan><tspan dy="-6">19</tspan></text></g>
<g id="b12"><use href="#grid" y="1625"/><rect class="c4" x="959.8" y="1628" width="12.5" height="14.5"/><text class="st" x="1083" y="1645"><tspan class="as" dy="6">*</tspan><tspan dy="-6">12</tspan></text></g>
<g id="b13"><use href="#grid" y="1648.3"/><rect class="c1" x="910.8" y="1651.3" width="12.5" height="14.5"/><text class="st" x="1083" y="1668.3"><tspan class="as" dy="6">*</tspan><tspan dy="-6">13</tspan></text></g>
<g id="b14"><use href="#grid" y="1671.7"/><rect class="c1" x="910.8" y="1674.7" width="12.5" height="14.5"/><rect class="c2" x="926.8" y="1674.7" width="12.5" height="14.5"/><rect class="c3" x="943.3" y="1674.7" width="12.5" height="14.5"/><rect class="c4" x="959.8" y="1674.7" width="12.5" height="14.5"/><rect class="c5" x="976.8" y="1674.7" width="12.5" height="14.5"/><rect class="c8" x="1033.3" y="1674.7" width="12.5" height="14.5"/><text class="st" x="1083" y="1691.7"><tspan class="as" dy="6">*</tspan><tspan dy="-6">14</tspan></text></g>
<g id="b15"><use href="#grid" y="1695"/><rect class="c1" x="910.8" y="1698" width="12.5" height="14.5"/><rect class="c2" x="926.8" y="1698" width="12.5" height="14.5"/><rect class="c3" x="943.3" y="1698" width="12.5" height="14.5"/><rect class="c4" x="959.8" y="1698" width="12.5" height="14.5"/><rect class="c5" x="976.8" y="1698" width="12.5" height="14.5"/><rect class="c6" x="1000.8" y="1698" width="12.5" height="14.5"/><rect class="c7" x="1016.8" y="1698" width="12.5" height="14.5"/><rect class="c8" x="1033.3" y="1698" width="12.5" height="14.5"/><text class="st" x="1083" y="1715"><tspan class="as" dy="6">*</tspan><tspan dy="-6">15</tspan></text></g>
</g>
</svg>
